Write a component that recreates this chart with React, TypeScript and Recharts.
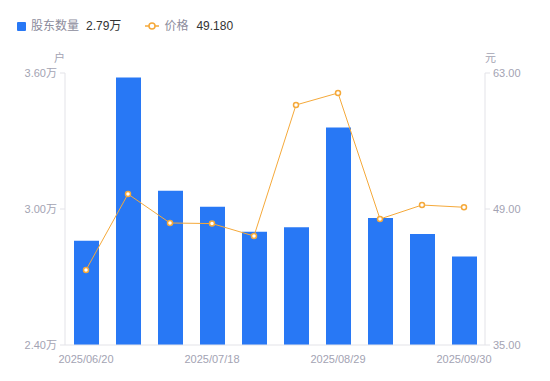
import React from 'react';
import { ComposedChart, Bar, Line, XAxis, YAxis } from 'recharts';

const dates = ['2025/06/20', '2025/06/30', '2025/07/10', '2025/07/18', '2025/07/31', '2025/08/15', '2025/08/29', '2025/09/10', '2025/09/19', '2025/09/30'];
const holders = [2.86, 3.58, 3.08, 3.01, 2.90, 2.92, 3.36, 2.96, 2.89, 2.79];
const prices = [42.72, 50.54, 47.56, 47.5, 46.22, 59.71, 60.94, 47.97, 49.41, 49.18];
const leftTicks = [2.4, 3.0, 3.6];
const rightTicks = [35, 49, 63];

const data = dates.map((d, i) => ({ date: d, holders: holders[i], price: prices[i] }));

const FONT = '"Liberation Sans", "Noto Sans CJK SC", sans-serif';
const TICK = { fill: '#a3a3b3', fontSize: 11, fontFamily: FONT };
const BLUE = '#2878f5';
const ORANGE = '#f5a93a';

export default function App() {
  return (
    <div style={{ position: 'absolute', left: 0, top: 0, width: 550, height: 381, background: '#fff', fontFamily: FONT }}>
      <div style={{ position: 'absolute', left: 17, top: 18, display: 'flex', alignItems: 'center', fontSize: 12, lineHeight: '16px', whiteSpace: 'nowrap' }}>
        <span style={{ display: 'inline-block', width: 9, height: 9, background: BLUE, borderRadius: 1, marginRight: 5 }} />
        <span style={{ color: '#8c8c9c' }}>股东数量</span>
        <span style={{ color: '#333', marginLeft: 7 }}>2.79万</span>
        <svg width={14} height={10} style={{ marginLeft: 24, marginRight: 5 }}>
          <line x1={0} y1={5} x2={14} y2={5} stroke={ORANGE} strokeWidth={1.5} />
          <circle cx={7} cy={5} r={3} fill="#fff" stroke={ORANGE} strokeWidth={1.5} />
        </svg>
        <span style={{ color: '#8c8c9c' }}>价格</span>
        <span style={{ color: '#333', marginLeft: 8 }}>49.180</span>
      </div>
      <div style={{ position: 'absolute', left: 54, top: 49, fontSize: 11, color: '#a3a3b3' }}>户</div>
      <div style={{ position: 'absolute', left: 485, top: 49, fontSize: 11, color: '#a3a3b3' }}>元</div>
      <ComposedChart width={550} height={381} data={data} margin={{ top: 73, right: 0, left: 0, bottom: 0 }}>
        <XAxis
          dataKey="date"
          interval={2}
          tickLine={false}
          axisLine={{ stroke: '#e3e3e8' }}
          tick={TICK}
          height={36}
          tickMargin={4}
        />
        <YAxis
          yAxisId="left"
          orientation="left"
          domain={[2.4, 3.6]}
          ticks={leftTicks}
          width={65}
          axisLine={{ stroke: '#e3e3e8' }}
          tickLine={{ stroke: '#e3e3e8' }}
          tickSize={5}
          tickMargin={3}
          tick={TICK}
          tickFormatter={(v: number) => v.toFixed(2) + '万'}
          allowDataOverflow
        />
        <YAxis
          yAxisId="right"
          orientation="right"
          domain={[35, 63]}
          ticks={rightTicks}
          width={65}
          axisLine={{ stroke: '#e3e3e8' }}
          tickLine={{ stroke: '#e3e3e8' }}
          tickSize={5}
          tickMargin={3}
          tick={TICK}
          tickFormatter={(v: number) => v.toFixed(2)}
        />
        <Bar yAxisId="left" dataKey="holders" fill={BLUE} barSize={25} isAnimationActive={false} />
        <Line
          yAxisId="right"
          dataKey="price"
          type="linear"
          stroke={ORANGE}
          strokeWidth={1}
          dot={{ r: 2.5, fill: '#fff', stroke: ORANGE, strokeWidth: 1.5 }}
          isAnimationActive={false}
        />
      </ComposedChart>
    </div>
  );
}
